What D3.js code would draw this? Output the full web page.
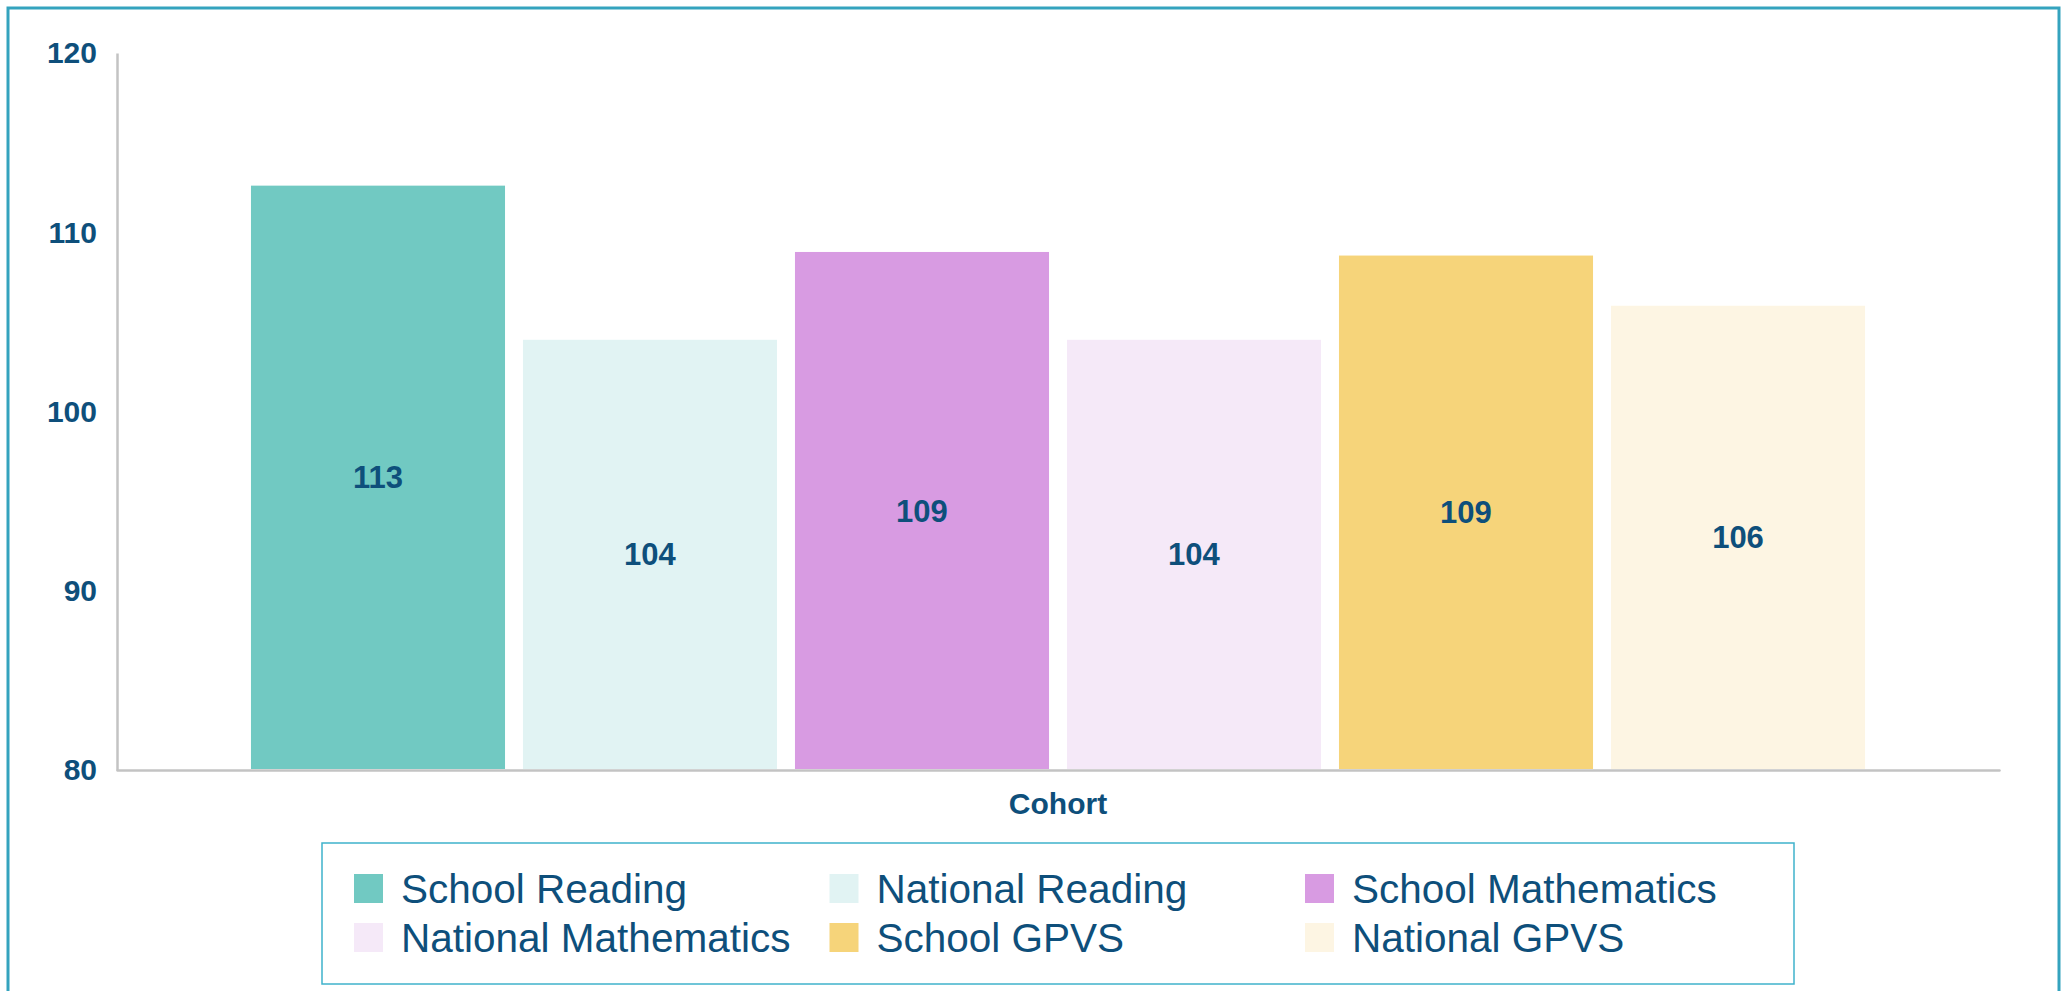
<!DOCTYPE html>
<html>
<head>
<meta charset="utf-8">
<script src="https://cdn.jsdelivr.net/npm/d3@7"></script>
<style>
  body { margin: 0; background: #fff; }
  svg { display: block; font-family: "Liberation Sans", Arial, sans-serif; }
</style>
</head>
<body>
<svg width="2072" height="991"></svg>
<script>
// -------------------- DATA --------------------
const categories = ["Cohort"];
const series = ["School Reading", "National Reading", "School Mathematics",
                "National Mathematics", "School GPVS", "National GPVS"];
const values = [112.6, 104.0, 108.9, 104.0, 108.7, 105.9];
const colors = ["#71c9c2", "#e1f3f3", "#d89be2", "#f5e9f8", "#f6d47a", "#fdf5e3"];
const yTicks = [80, 90, 100, 110, 120];

const textColor = "#0e4f7b";

// -------------------- SVG --------------------
const svg = d3.select("svg");

// outer frame
svg.append("rect")
  .attr("x", 8).attr("y", 8)
  .attr("width", 2051).attr("height", 1000)
  .attr("fill", "none")
  .attr("stroke", "#34a3be")
  .attr("stroke-width", 3);

// -------------------- SCALES --------------------
const x0 = d3.scaleBand()
  .domain(categories)
  .range([117, 1999])
  .paddingInner(0)
  .paddingOuter(0.083);

const x1 = d3.scaleBand()
  .domain(series)
  .range([0, x0.bandwidth()])
  .paddingInner(0.066)
  .paddingOuter(0);

const y = d3.scaleLinear()
  .domain([80, 120])
  .range([770, 53]);

// -------------------- AXES --------------------
const yAxis = svg.append("g")
  .attr("transform", "translate(117,0)")
  .call(d3.axisLeft(y).tickValues(yTicks).tickSize(0).tickPadding(20));
yAxis.select(".domain").attr("stroke", "#c3c3c3").attr("stroke-width", 2.5);
yAxis.selectAll("text")
  .attr("fill", textColor)
  .attr("dy", "0.33em")
  .style("font-size", "30px")
  .style("font-weight", "bold");

const xAxis = svg.append("g")
  .attr("transform", `translate(0,${y(80)})`)
  .call(d3.axisBottom(x0).tickSize(0).tickPadding(23));
xAxis.select(".domain").attr("stroke", "#c3c3c3").attr("stroke-width", 2.5)
  .attr("stroke-linecap", "round");
xAxis.selectAll("text")
  .attr("fill", textColor)
  .style("font-size", "30px")
  .style("font-weight", "bold");

// -------------------- BARS --------------------
const groups = svg.append("g")
  .selectAll("g")
  .data(categories)
  .enter()
  .append("g")
  .attr("transform", d => `translate(${x0(d)},0)`);

const bars = groups.selectAll("g.bar")
  .data(series.map((s, i) => ({ name: s, value: values[i], color: colors[i] })))
  .enter()
  .append("g")
  .attr("class", "bar");

bars.append("rect")
  .attr("x", d => x1(d.name))
  .attr("y", d => y(d.value))
  .attr("width", x1.bandwidth())
  .attr("height", d => y(80) - y(d.value) - 1)
  .attr("fill", d => d.color);

bars.append("text")
  .attr("x", d => x1(d.name) + x1.bandwidth() / 2)
  .attr("y", d => (y(d.value) + y(80)) / 2)
  .attr("dy", "0.34em")
  .attr("text-anchor", "middle")
  .attr("fill", textColor)
  .style("font-size", "31px")
  .style("font-weight", "bold")
  .text(d => d3.format(".0f")(d.value));

// -------------------- LEGEND --------------------
const legend = svg.append("g");
legend.append("rect")
  .attr("x", 322).attr("y", 843)
  .attr("width", 1472).attr("height", 141)
  .attr("fill", "#fff")
  .attr("stroke", "#3fb2cb")
  .attr("stroke-width", 1.5);

const items = legend.selectAll("g.item")
  .data(series)
  .enter()
  .append("g")
  .attr("class", "item")
  .attr("transform", (d, i) => `translate(${354 + (i % 3) * 475.5},${874 + Math.floor(i / 3) * 49})`);

items.append("rect")
  .attr("width", 29)
  .attr("height", 29)
  .attr("fill", (d, i) => colors[i]);

items.append("text")
  .attr("x", 47)
  .attr("y", 14.5)
  .attr("dy", "0.35em")
  .attr("fill", textColor)
  .style("font-size", "40.5px")
  .text(d => d);
</script>
</body>
</html>
